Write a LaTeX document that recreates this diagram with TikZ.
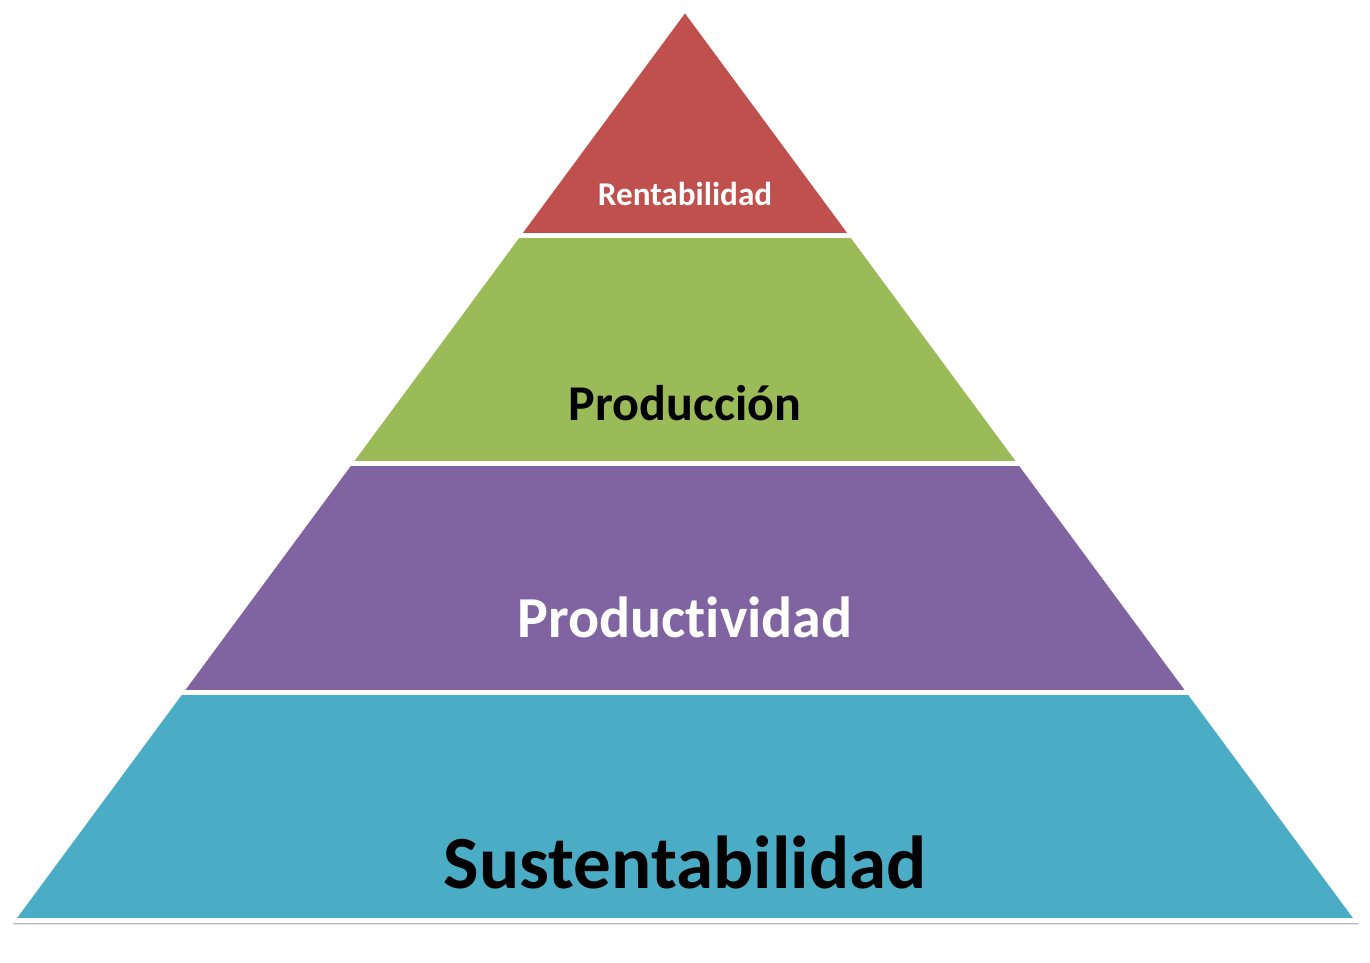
\documentclass[tikz,border=0pt]{standalone}
\usepackage{fontspec}
\setmainfont{Carlito}[Ligatures=NoCommon]
\usepackage{tikz}
\usetikzlibrary{shadows}

\definecolor{rojo}{HTML}{C0504D}
\definecolor{verde}{HTML}{9BBB59}
\definecolor{morado}{HTML}{8064A2}
\definecolor{celeste}{HTML}{4BACC6}

\begin{document}
\begin{tikzpicture}[x=0.02cm, y=-0.02cm,
  capa/.style={fill=#1},
  sep/.style={white, line width=2.8pt},
  borde/.style={draw=white, line width=2.8pt, line join=round},
  lbl/.style={font=\bfseries, anchor=base, inner sep=0pt}
]
  \useasboundingbox (0,0) rectangle (1370,963);
  \coordinate (A)  at (685,9);
  \coordinate (BL) at (12,920.5);
  \coordinate (BR) at (1358,920.5);

  % sombra
  \path[fill=white, drop shadow={shadow xshift=0.6pt, shadow yshift=-2.2pt,
        fill=black!28, opacity=1}, borde] (A) -- (BL) -- (BR) -- cycle;

  \begin{scope}
    \clip (A) -- (BL) -- (BR) -- cycle;
    \fill[capa=rojo]    (0,0)     rectangle (1370,235.5);
    \fill[capa=verde]   (0,235.5) rectangle (1370,463.5);
    \fill[capa=morado]  (0,463.5) rectangle (1370,692.5);
    \fill[capa=celeste] (0,692.5) rectangle (1370,930);
    \draw[sep] (0,235.5) -- (1370,235.5);
    \draw[sep] (0,463.5) -- (1370,463.5);
    \draw[sep] (0,692.5) -- (1370,692.5);
  \end{scope}
  \draw[borde] (A) -- (BL) -- (BR) -- cycle;

  \node[lbl, white, font=\bfseries\fontsize{18.9}{21}\selectfont] (ren) at (685,206) {Rentabilidad};
  \node[lbl, black, font=\bfseries\fontsize{28.5}{32}\selectfont] (pro) at (685,420) {Producción};
  \node[lbl, white, font=\bfseries\fontsize{33}{37}\selectfont]   (ptv) at (685,637) {Productividad};
  \node[lbl, black, font=\bfseries\fontsize{42.7}{48}\selectfont] (sus) at (685,888) {Sustentabilidad};
\end{tikzpicture}
\end{document}
